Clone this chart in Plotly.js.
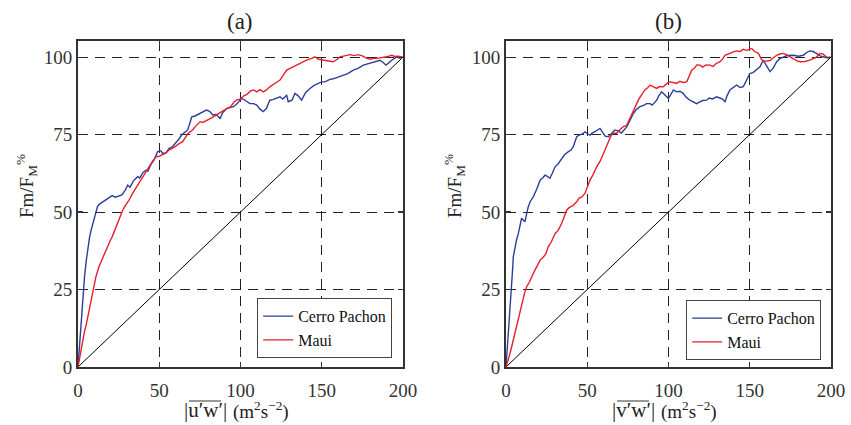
<!DOCTYPE html>
<html>
<head>
<meta charset="utf-8">
<script src="https://cdn.plot.ly/plotly-3.0.1.min.js"></script>
<style>html,body{margin:0;padding:0;background:#fff;}#chart{width:851px;height:425px;}</style>
</head>
<body>
<div id="chart"></div>
<script>
// ---- Data ----
const seriesNames = ["Cerro Pachon", "Maui"];
const panelTitles = ["(a)", "(b)"];
const xTicks = [0, 50, 100, 150, 200];
const yTicks = [0, 25, 50, 75, 100];
const diagX = [0, 200];
const diagY = [0, 100];
const xVarA = "u\u2032w\u2032";
const xVarB = "v\u2032w\u2032";
const xUnits = "(m<sup>2</sup>s<sup>\u22122</sup>)";
const yLab = "Fm/F<sub>M</sub><sup>%</sup>";

// Panel (a): |u'w'|
const cpA_x = [0,1,2,3,4,5,6,7,8,9,10,11,12,13,15,17,19,21,23,25,27,29,30.6,32,34,36.7,38,40,41.8,43,45,47,49,51,52,54,56,58,60,62,64,66,67.5,69,70,72,74,76,79,81,83,85,87.4,89,91.5,93,95.6,98,100.7,103,105.8,108,110,112,114,116,118,120,122,124.3,126,128.4,129.4,131.7,133.5,135.5,137.6,140,142.8,145,147.9,150,152,155,157,160,163.3,166,169.4,172,175.6,178,181.7,183.5,185.8,188,189.5,191,193,196,198,200];
const cpA_y = [0,8,16,23,29,34,38,41.5,44,46,48.5,50.6,51.8,52.5,53.2,53.8,54.4,55.3,54.8,55.2,55.5,57,58.7,58,60,61.4,61,62.8,63.5,63.2,65.5,67,69.5,69.8,69,69,70.5,71,72.2,73.5,75,75.8,76.5,79,80.7,81,81.5,82,82.9,82.5,81.3,81.5,80.2,82,83.4,83.6,84,85,86.7,86,85,85,84.5,83.2,82.4,83.5,86.1,86.3,86.7,87.2,86.5,87.7,85.6,86.1,88.3,87.5,86.1,88.5,89.9,90.8,91.5,92,92,92.8,93,93.5,94,94.7,95.8,96.3,97.4,97.8,98.5,98.8,99,98.2,97.4,98,99,100,99.7,100];
const maA_x = [0,1,2,3,4,5,7,9,11,13,15,17,18.3,20,21,23.4,25,26,27.5,29,31,33.6,35,37,39.8,42,44,46,48,50,52,54,56,58,60,62,64.4,66,68,70.5,72,75,77,79,81,83.3,85,87,89,91.5,94,96,97.7,99.7,102,104,106,108,110,112,114,116,118,120,122,124.3,126,128.4,130.5,132,134.6,136.6,138.5,140.7,143.8,145.8,148,151,153,155,157,159.6,161.2,164,167.4,170,172.5,175,177.7,180,182,184,186,188,190,193,195,197,200];
const maA_y = [0,3,6,9,11.5,13.5,18.4,24,29.1,32.5,35,37.5,39.4,41,42,45.3,47.5,49,50.6,52,53.5,56,57.2,59,61.4,63.5,65,66.5,67.8,68,68.5,69,70,70.5,71.2,72,72.7,74,75.5,76.5,77.5,79.1,79,79.5,80,80.7,81.3,82,82.6,83.4,84,85.5,86.2,86.4,87.5,88,89,89.4,88.8,89.5,88.8,89.4,90.4,91.2,91.8,92.6,93.8,95.8,96.4,96.8,97.4,98,98.4,99,99.6,100.1,99.3,99,98.7,98.5,98.5,99.3,100.1,100.4,100.8,100.5,100.8,100.4,99.6,99.3,99.6,99.6,99.8,99.8,100.1,100.6,100.2,100.3,100];

// Panel (b): |v'w'|
const cpB_x = [0,1,2,2.5,3,4,4.5,5.5,6.5,7.6,8.5,9.6,10.5,11.7,12.5,13.7,15,16.8,19,21,22.5,24,25.5,27,28.5,30.2,32,34.3,36,38.4,40,41.4,42.5,43.5,45,47,48.6,50,51.7,53,55,57.8,59,61,63,65,67,69,71,74.3,76,78.4,80,82.5,85,86.5,88.6,90,92.7,94,95.8,97.5,99.9,101.5,103,105,107,109,111,113.2,115,117.3,119,121,123.5,125,127,129.6,131.5,133,134.8,136,137.8,140,141.9,144,146,148,150,152,154,156.3,157.3,158.3,160,162.5,164.5,166.6,168.5,170.7,173,176.8,180,183,185,187,189,191,193,195,197.5,200];
const cpB_y = [0,7,14,19.5,24,31,35.6,38.5,41,43.1,45.5,48,47.5,46.9,49,51.7,53.5,54.9,57.5,60.3,61,61.9,61.5,60.9,62.5,64.6,65.5,67.3,68.5,69.5,70,71.1,73,74.3,74.8,75.2,75.9,75.5,74.8,75.5,76,77,76,74.5,74.3,75.5,76.5,76.2,75.5,77.5,79.5,81.8,83,84,84.5,85,85,84.5,86.1,87.5,88.8,88,86.7,88,89.4,88.8,89,88.3,87,86.1,85.5,85,85.5,86,86.1,86.8,86.5,87.2,86.8,86.5,85.6,87.5,89.4,90.2,91,90.2,90.5,92.5,94.7,95,95.8,96.9,98,99,97.5,95.3,96.5,98.5,99.5,100.1,100.5,100.6,100.3,100.6,101.5,102,101.8,101.2,100.5,100.1,99.8,100];
const maB_x = [0,1,2,3,4.5,6,7.5,8.6,10,11.5,12.7,14.5,16.8,18.5,21,23,24.5,26,28,30.2,32,34.3,36,37.3,39,41,43.5,45,46.5,48.6,50,51.7,53.5,55.8,58,59.9,61.5,63,64.5,66,68,70,72,74.3,76,78.4,80,81.4,83,85.5,87,88.6,90.5,92.7,94.5,96.8,99,100.9,103,105,107,109,111.2,112.5,114.3,116,117.5,119.4,121,123,125.5,127.5,129.5,131.7,133.5,134.8,136.5,138,139.9,142,144,146,148,150,151.2,153,155.3,157,158.3,160,162.5,164.5,166.6,168.5,170.7,172.5,174.8,177,179,181,184,187,189,191,193.2,195,197,198.5,200];
const maB_y = [0,1.5,3.5,5.5,8.7,12,15.5,18.4,21,24,25.9,27.5,30.2,32,34.5,35.5,36.5,38.8,40.5,43.1,44,46.4,48.5,50.6,51.5,52,53.3,54.5,54.8,56,58,60.3,62,64.6,66.5,68.9,71,73,74.5,75.5,75.4,76.5,77.5,78,80,82.9,84.5,86.1,87.5,89.4,90,91,90.5,89.9,90.5,90.4,91.5,92,91.8,91.5,92.2,91.8,92,93.5,95.8,96.5,97.5,97.4,96.8,97.5,97.4,97,98,98.5,99.5,100.6,101,101.5,101.7,102,101.8,102.5,102.2,102.6,102.8,101.8,101.2,99.5,98.5,98.7,98.9,99.8,100.6,101,101.2,100.8,100.1,99.5,98.8,98.5,98.6,99,99.5,100,101.2,101,100.1,99.8,100];

// ---- Styles ----
const BLUE = "#2c3f98";
const RED = "#e61f2c";
const FRAME = "#333333";
const FONT = "Liberation Serif";

function line(x, y, name, color, xa, ya, legend, show) {
  return {x, y, name, type: "scatter", mode: "lines",
    line: {color, width: 1.4}, xaxis: xa, yaxis: ya,
    legend, showlegend: show, hoverinfo: "skip"};
}

const traces = [
  line(diagX, diagY, "diag", "#000000", "x", "y", "legend", false),
  line(cpA_x, cpA_y, seriesNames[0], BLUE, "x", "y", "legend", true),
  line(maA_x, maA_y, seriesNames[1], RED, "x", "y", "legend", true),
  line(diagX, diagY, "diag", "#000000", "x2", "y2", "legend2", false),
  line(cpB_x, cpB_y, seriesNames[0], BLUE, "x2", "y2", "legend2", true),
  line(maB_x, maB_y, seriesNames[1], RED, "x2", "y2", "legend2", true)
];
traces[0].line.width = 1; traces[3].line.width = 1;

const H = 425, W = 851;
const yDom = [(H - 367) / H, (H - 41) / H];
function xaxis(dom, anchor) {
  return {domain: dom, anchor, range: [0, 200], tickvals: xTicks,
    ticktext: xTicks.map(String), ticks: "inside", ticklen: 5, tickwidth: 1.2,
    tickcolor: FRAME, showline: true, linecolor: FRAME, linewidth: 2, mirror: "ticks",
    showgrid: true, gridcolor: "#222", gridwidth: 1.1, griddash: "10px,7px",
    zeroline: false, automargin: false, ticklabelstandoff: 5,
    tickfont: {family: FONT, size: 19, color: "#333"}};
}
function yaxis(anchor) {
  return {domain: yDom, anchor, range: [0, 105.2], tickvals: yTicks,
    ticktext: yTicks.map(String), ticks: "inside", ticklen: 5, tickwidth: 1.2,
    tickcolor: FRAME, showline: true, linecolor: FRAME, linewidth: 2, mirror: "ticks",
    showgrid: true, gridcolor: "#222", gridwidth: 1.1, griddash: "10px,7px",
    zeroline: false, automargin: false,
    tickfont: {family: FONT, size: 19, color: "#333"}};
}
const legendBase = {bgcolor: "#fff", bordercolor: "#444", borderwidth: 1.2,
  font: {family: FONT, size: 16, color: "#111"}, xanchor: "right", yanchor: "bottom",
  tracegroupgap: 0, itemwidth: 30};

const ann = (text, x, y, size, angle, xanchor) => ({text, x: x / W, y: 1 - y / H,
  xref: "paper", yref: "paper", xanchor: xanchor || "center", yanchor: "middle",
  showarrow: false, textangle: angle || 0, font: {family: FONT, size, color: "#222"}});

const DX = 428; // offset of panel (b) from panel (a) in pixels
const overline = (x0, x1) => ({type: "line", xref: "paper", yref: "paper",
  x0: x0 / W, x1: x1 / W, y0: 1 - 401 / H, y1: 1 - 401 / H,
  line: {color: "#333", width: 1}});

const layout = {
  width: W, height: H, margin: {l: 0, r: 0, t: 0, b: 0},
  paper_bgcolor: "#fff", plot_bgcolor: "#fff", showlegend: true,
  xaxis: xaxis([78 / W, 403 / W], "y"), yaxis: yaxis("x"),
  xaxis2: xaxis([506 / W, 831 / W], "y2"), yaxis2: yaxis("x2"),
  legend: Object.assign({x: 392 / W, y: (H - 358) / H}, legendBase),
  legend2: Object.assign({x: 821 / W, y: (H - 360) / H}, legendBase),
  annotations: [
    ann(panelTitles[0], 240.5, 22, 23),
    ann(panelTitles[1], 668.5, 22, 23),
    ann("|" + xVarA + "|", 205, 410, 21),
    ann(xUnits, 231, 410, 19, 0, "left"),
    ann("|" + xVarB + "|", 205 + DX, 410, 21),
    ann(xUnits, 231 + DX, 410, 19, 0, "left"),
    ann(yLab, 26, 186, 19, -90),
    ann(yLab, 454, 186, 19, -90)
  ],
  shapes: [overline(189, 221), overline(189 + DX, 221 + DX)]
};

Plotly.newPlot("chart", traces, layout, {staticPlot: true, displayModeBar: false});
</script>
</body>
</html>
